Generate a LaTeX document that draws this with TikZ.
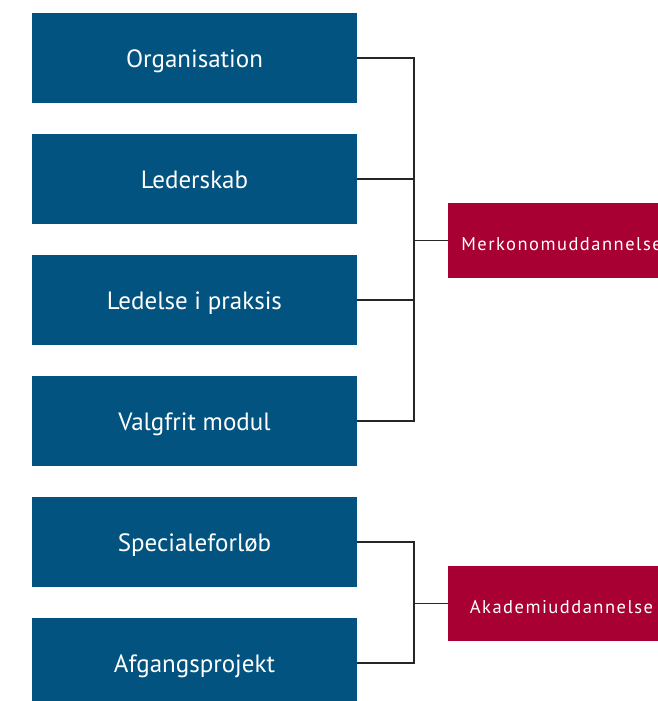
\documentclass[tikz,border=0pt]{standalone}
\usepackage{fontspec}
\setmainfont{PT Sans}
\definecolor{boxblue}{HTML}{02537F}
\definecolor{boxred}{HTML}{A80033}
\begin{document}
\begin{tikzpicture}[x=1pt,y=-1pt,
  bluebox/.style={fill=boxblue, minimum width=325pt, minimum height=90pt, inner sep=0pt, text height=18pt, text depth=0pt, text=white, font=\fontsize{25}{28}\selectfont},
  redbox/.style={fill=boxred, minimum width=227pt, minimum height=75pt, inner sep=0pt, text height=20pt, text depth=0pt, text=white, font=\addfontfeatures{LetterSpace=8}\fontsize{18.5}{22}\selectfont},
  conn/.style={draw=black!85, line width=1.1pt}]
\useasboundingbox (0,0) rectangle (658,701);
\clip (0,0) rectangle (658,701);
\node[bluebox] (b1) at (194.5,58) {Organisation};
\node[bluebox] (b2) at (194.5,179) {Lederskab};
\node[bluebox] (b3) at (194.5,300) {Ledelse i praksis};
\node[bluebox] (b4) at (194.5,421) {Valgfrit modul};
\node[bluebox] (b5) at (194.5,542) {Specialeforløb};
\node[bluebox] (b6) at (194.5,663) {Afgangsprojekt};
\node[redbox] (r1) at (561.5,240.5) {Merkonomuddannelse};
\node[redbox] (r2) at (561.5,603.5) {Akademiuddannelse};
\coordinate (j1) at (414,240.5);
\coordinate (j2) at (414,603.5);
\draw[conn] (b1.east) -| (j1);
\draw[conn] (b4.east) -| (j1);
\draw[conn] (b2.east) -- (b2.east -| j1);
\draw[conn] (b3.east) -- (b3.east -| j1);
\draw[conn] (j1) -- (r1.west);
\draw[conn] (b5.east) -| (j2);
\draw[conn] (b6.east) -| (j2);
\draw[conn] (j2) -- (r2.west);
\end{tikzpicture}
\end{document}
